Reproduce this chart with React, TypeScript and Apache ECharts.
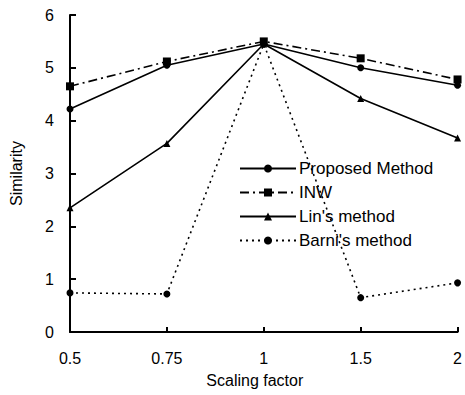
import React, { useEffect, useRef } from "react";
import * as echarts from "echarts";

const categories = ["0.5", "0.75", "1", "1.5", "2"];
const proposed = [4.22, 5.05, 5.45, 5.0, 4.67];
const inw = [4.65, 5.12, 5.5, 5.18, 4.78];
const lins = [2.35, 3.57, 5.45, 4.42, 3.67];
const barni = [0.74, 0.72, 5.45, 0.65, 0.93];

const FONT = "'Liberation Sans', Arial, sans-serif";

export default function App() {
  const ref = useRef<HTMLDivElement>(null);
  useEffect(() => {
    if (!ref.current) return;
    const chart = echarts.init(ref.current, null, { renderer: "svg" });
    const mk = (name: string, data: number[], symbol: string, size: number, type: any) => ({
      name,
      type: "line",
      data,
      symbol,
      symbolSize: size,
      showSymbol: true,
      itemStyle: { color: "#000" },
      lineStyle: { color: "#000", width: 1.6, type },
      z: 3,
    });
    chart.setOption({
      animation: false,
      backgroundColor: "#fff",
      textStyle: { fontFamily: FONT },
      grid: { left: 68, right: 2, top: 15, bottom: 63 },
      legend: {
        orient: "vertical",
        left: 234,
        top: 155,
        itemWidth: 56,
        itemHeight: 10,
        itemGap: 7,
        textStyle: { fontSize: 17, color: "#000", fontFamily: FONT, lineHeight: 17, padding: [0, 0, 0, -2] },
        data: ["Proposed Method", "INW", "Lin's method", "Barni's method"],
      },
      xAxis: {
        type: "category",
        data: categories,
        boundaryGap: false,
        name: "Scaling factor",
        nameLocation: "middle",
        nameGap: 40,
        nameTextStyle: { fontSize: 16, color: "#000", padding: [0, 18, 0, 0] },
        axisLine: { lineStyle: { color: "#000", width: 2 } },
        axisTick: { inside: true, length: 5, lineStyle: { color: "#000", width: 2 } },
        axisLabel: { fontSize: 16, color: "#000", margin: 18 },
        splitLine: { show: false },
      },
      yAxis: {
        type: "value",
        min: 0,
        max: 6,
        interval: 1,
        name: "Similarity",
        nameLocation: "middle",
        nameGap: 46,
        nameTextStyle: { fontSize: 16, color: "#000" },
        axisLine: { show: true, lineStyle: { color: "#000", width: 2 } },
        axisTick: { show: true, inside: true, length: 6, lineStyle: { color: "#000", width: 2 } },
        axisLabel: { fontSize: 16, color: "#000", margin: 16 },
        splitLine: { show: false },
      },
      series: [
        mk("Proposed Method", proposed, "circle", 7, "solid"),
        mk("INW", inw, "rect", 8, [9, 4, 2, 4]),
        mk("Lin's method", lins, "triangle", 7, "solid"),
        mk("Barni's method", barni, "circle", 7, [2, 4]),
      ],
    });
    return () => chart.dispose();
  }, []);
  return (
    <div
      ref={ref}
      style={{ position: "absolute", left: 0, top: 0, width: 465, height: 395 }}
    />
  );
}
